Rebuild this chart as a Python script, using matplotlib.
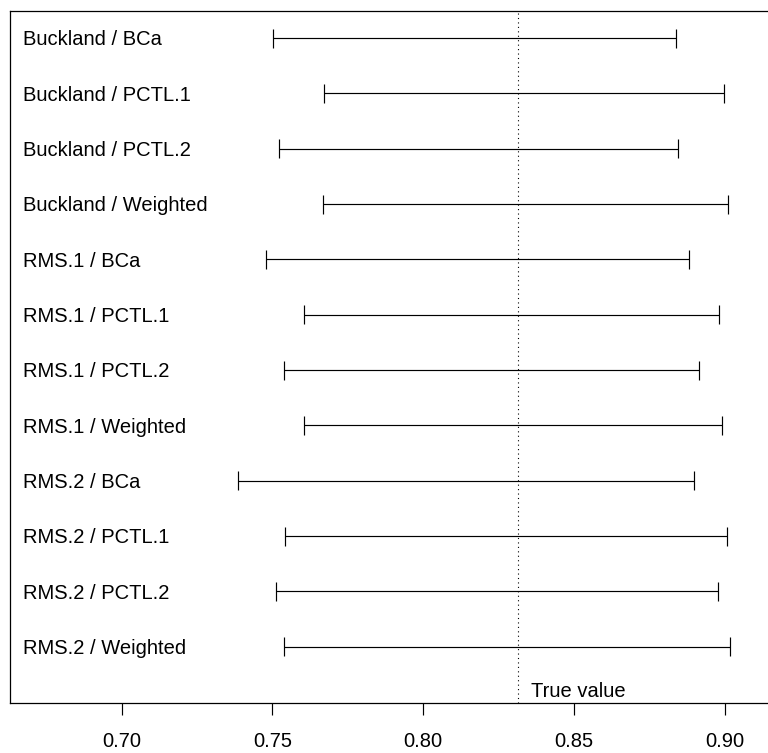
import matplotlib
matplotlib.use("Agg")
import matplotlib.pyplot as plt

plt.rcParams['font.family'] = ['Liberation Sans', 'DejaVu Sans']

# Confidence intervals by estimator / method
labels = [
    "Buckland / BCa", "Buckland / PCTL.1", "Buckland / PCTL.2", "Buckland / Weighted",
    "RMS.1 / BCa", "RMS.1 / PCTL.1", "RMS.1 / PCTL.2", "RMS.1 / Weighted",
    "RMS.2 / BCa", "RMS.2 / PCTL.1", "RMS.2 / PCTL.2", "RMS.2 / Weighted",
]
lower = [0.7501, 0.7672, 0.7522, 0.7669,
         0.7479, 0.7606, 0.7537, 0.7604,
         0.7385, 0.7543, 0.7512, 0.7539]
upper = [0.8838, 0.8998, 0.8846, 0.9010,
         0.8881, 0.8982, 0.8914, 0.8991,
         0.8897, 0.9009, 0.8977, 0.9018]
true_value = 0.8315
xticks = [0.70, 0.75, 0.80, 0.85, 0.90]
xtick_labels = ["0.70", "0.75", "0.80", "0.85", "0.90"]

W, H = 768, 753
fs = 14.5
fig = plt.figure(figsize=(W / 100, H / 100), dpi=100)
ax = fig.add_axes([10 / W, (H - 702.7) / H, (W - 10) / W, (702.7 - 11) / H])

lw = 0.85
for i, (lo, hi) in enumerate(zip(lower, upper)):
    ax.plot([lo, hi], [i, i], color="black", lw=lw, solid_capstyle="butt")
    ax.plot([lo, lo], [i - 0.17, i + 0.17], color="black", lw=lw, solid_capstyle="butt")
    ax.plot([hi, hi], [i - 0.17, i + 0.17], color="black", lw=lw, solid_capstyle="butt")
    ax.annotate(labels[i], xy=(0, i), xycoords=("axes fraction", "data"),
                xytext=(9.1, -5.1), textcoords="offset points",
                ha="left", va="baseline", fontsize=fs, color="black")

ax.axvline(true_value, color="black", lw=0.8, linestyle=(0, (1, 3)))
ax.annotate("True value", xy=(true_value, 11.8), xycoords="data",
            xytext=(9.3, 0), textcoords="offset points",
            ha="left", va="center", fontsize=fs, color="black")

ax.set_xlim(0.66295, 0.91436)
ax.set_ylim(12.01, -0.49)
ax.set_yticks([])
ax.set_xticks(xticks)
ax.set_xticklabels(xtick_labels, fontsize=fs)
ax.tick_params(axis="x", length=8.9, width=0.85, pad=12, color="black")
for side in ["left", "top", "bottom"]:
    ax.spines[side].set_linewidth(0.9)
    ax.spines[side].set_color("black")
ax.spines["right"].set_visible(False)

fig.savefig("out.png", dpi=100)
